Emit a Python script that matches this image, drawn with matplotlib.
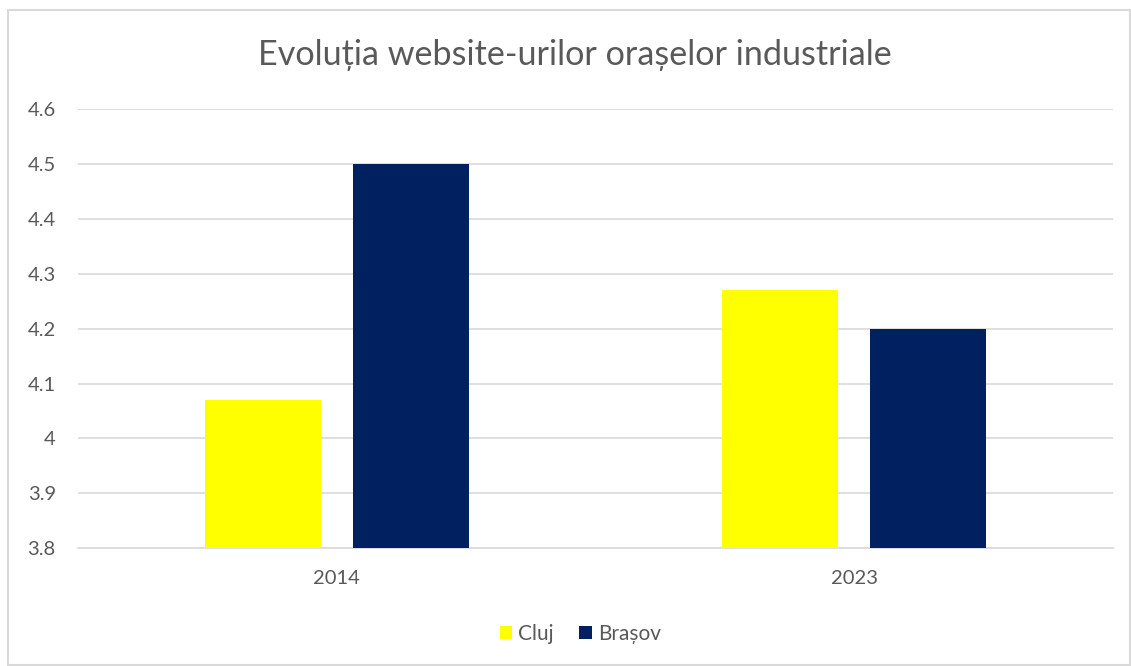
import matplotlib
matplotlib.use('Agg')
import matplotlib.pyplot as plt
import numpy as np

plt.rcParams['font.family'] = ['Lato', 'DejaVu Sans']

years = ['2014', '2023']
cluj = [4.07, 4.27]
brasov = [4.5, 4.2]

fig = plt.figure(figsize=(11.31, 6.66), dpi=100)
ax = fig.add_axes([0.069, 0.177, 0.915, 0.659])

x = np.arange(len(years))
w = 0.224
ax.bar(x - 0.143, cluj, w, color='#FFFF00', label='Cluj', zorder=3)
ax.bar(x + 0.143, brasov, w, color='#002060', label='Brașov', zorder=3)

ax.set_xlim(-0.5, 1.5)
ax.set_ylim(3.8, 4.6)
ax.set_yticks(np.arange(3.8, 4.61, 0.1))
ax.set_yticklabels(['3.8', '3.9', '4', '4.1', '4.2', '4.3', '4.4', '4.5', '4.6'])
ax.set_xticks(x)
ax.set_xticklabels(years)
ax.tick_params(length=0, colors='#595959', labelsize=14.5)
ax.tick_params(axis='y', pad=16)
ax.tick_params(axis='x', pad=16)
ax.grid(axis='y', color='#D9D9D9', linewidth=1.2, zorder=0)
for s in ['top', 'right', 'left']:
    ax.spines[s].set_visible(False)
ax.spines['bottom'].set_color('#D9D9D9')
ax.spines['bottom'].set_linewidth(1.2)

fig.text(0.508, 0.918, 'Evoluția website-urilor orașelor industriale', ha='center', va='center',
         fontsize=24.6, color='#595959')

leg = fig.legend(loc='center', bbox_to_anchor=(0.513, 0.048), ncol=2, frameon=False,
                 fontsize=15, handlelength=0.6, handleheight=0.6, handletextpad=0.3,
                 columnspacing=1.2)
for t in leg.get_texts():
    t.set_color('#595959')

# chart border
fig.patches.append(plt.Rectangle((0.007, 0.002), 0.992, 0.983, transform=fig.transFigure,
                                 fill=False, edgecolor='#D9D9D9', linewidth=1.5))

fig.savefig('out.png', dpi=100)
